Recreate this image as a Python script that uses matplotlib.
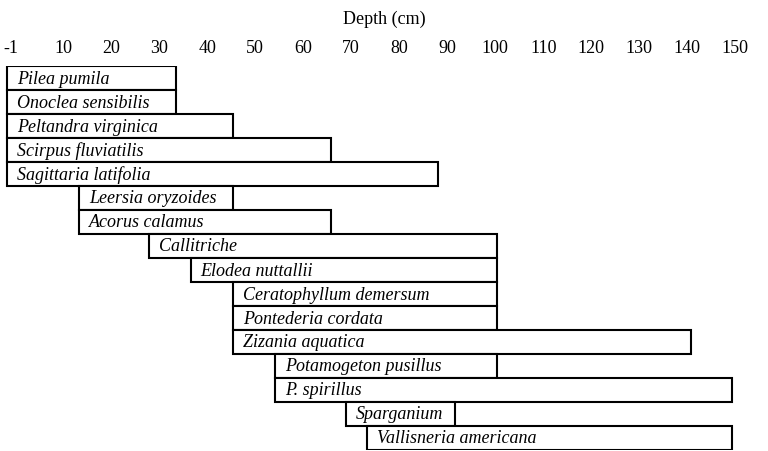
import matplotlib
matplotlib.use('Agg')
import matplotlib.pyplot as plt
import numpy as np

# species ranges along depth (cm)
species = ['Pilea pumila', 'Onoclea sensibilis', 'Peltandra virginica', 'Scirpus fluviatilis',
           'Sagittaria latifolia', 'Leersia oryzoides', 'Acorus calamus', 'Callitriche',
           'Elodea nuttallii', 'Ceratophyllum demersum', 'Pontederia cordata', 'Zizania aquatica',
           'Potamogeton pusillus', 'P. spirillus', 'Sparganium', 'Vallisneria americana']
depth_min = [-1.7, -1.7, -1.7, -1.7, -1.7, 13.3, 13.3, 27.9,
             36.6, 45.4, 45.4, 45.4, 54.1, 54.1, 68.9, 73.3]
depth_max = [33.5, 33.5, 45.4, 65.8, 88.1, 45.4, 65.8, 100.4,
             100.4, 100.4, 100.4, 140.8, 100.4, 149.3, 91.6, 149.3]

tick_vals = [-1, 10, 20, 30, 40, 50, 60, 70, 80, 90, 100, 110, 120, 130, 140, 150]
tick_labels = [str(t) for t in tick_vals]

plt.rcParams['font.family'] = ['Liberation Serif', 'DejaVu Serif']
FS = 13

fig = plt.figure(figsize=(7.68, 4.52), dpi=100)
ax = fig.add_axes([0, 1 / 452, 1, 384 / 452])

y = np.arange(len(species))
widths = np.array(depth_max) - np.array(depth_min)
ax.barh(y, widths, left=depth_min, height=1, align='edge',
        facecolor='white', edgecolor='black', linewidth=1.5)

for i, name in enumerate(species):
    ax.annotate(name, xy=(depth_min[i], i + 0.5), xytext=(7, 0), textcoords='offset points',
                va='center', ha='left', fontsize=FS, style='italic')

ax.set_xlim(-15.2 / 4.8, (768 - 15.2) / 4.8)
ax.set_ylim(len(species), 0)

ax.xaxis.tick_top()
ax.xaxis.set_label_position('top')
ax.set_xticks(tick_vals)
ax.set_xticklabels(tick_labels, fontsize=FS)
ax.tick_params(axis='x', length=0, pad=7)
ax.set_yticks([])
ax.set_xlabel('Depth (cm)', fontsize=FS, labelpad=12)
for s in ax.spines.values():
    s.set_visible(False)

fig.savefig('out.png', dpi=100)
